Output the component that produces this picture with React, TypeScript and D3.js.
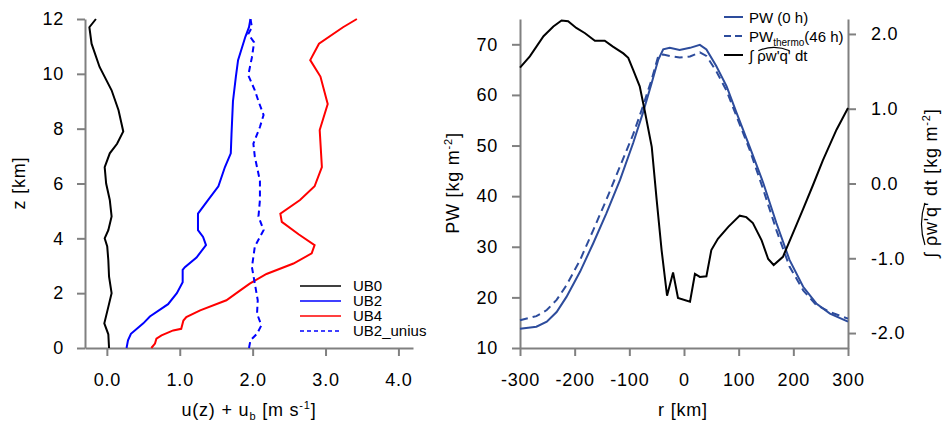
import React, { useRef, useEffect } from 'react';
import * as d3 from 'd3';

const W = 944;
const H = 421;

// left panel: wind profiles, [u (m/s), z (km)]
const ub0 = [
  [0.03, 0], [0.02, 0.5], [-0.035, 0.9], [0.02, 1.5], [0.065, 2.0], [0.03, 2.6], [0.02, 3.2],
  [0.005, 3.7], [-0.03, 4.0], [0.02, 4.3], [0.065, 4.8], [0.04, 5.4], [-0.01, 6.0], [-0.03, 6.6],
  [0.04, 7.1], [0.14, 7.45], [0.225, 7.9], [0.16, 8.67], [0.065, 9.4], [-0.1, 10.25],
  [-0.21, 11.1], [-0.24, 11.7], [-0.15, 12],
];
const ub2 = [
  [0.27, 0], [0.29, 0.28], [0.33, 0.52], [0.5, 0.9], [0.59, 1.15], [0.84, 1.6], [0.96, 2.0],
  [1.04, 2.4], [1.04, 2.85], [1.07, 2.95], [1.23, 3.3], [1.36, 3.75], [1.32, 4.05], [1.25, 4.3],
  [1.25, 4.9], [1.39, 5.4], [1.53, 5.9], [1.62, 6.6], [1.7, 7.1], [1.71, 7.8], [1.73, 9.0],
  [1.77, 9.9], [1.8, 10.5], [1.9, 11.35], [1.95, 11.7], [1.97, 12],
];
const ub4 = [
  [0.61, 0], [0.66, 0.16], [0.68, 0.34], [0.75, 0.46], [0.91, 0.64], [1.02, 0.7], [1.05, 1.0],
  [1.09, 1.13], [1.28, 1.37], [1.64, 1.74], [1.83, 2.1], [1.96, 2.35], [2.19, 2.7], [2.56, 3.08],
  [2.81, 3.45], [2.85, 3.75], [2.63, 4.15], [2.4, 4.6], [2.38, 4.9], [2.65, 5.4], [2.85, 5.9],
  [2.95, 6.6], [2.92, 7.95], [3.03, 8.9], [2.93, 9.9], [2.79, 10.5], [2.91, 11.1], [3.24, 11.7],
  [3.43, 12],
];
const ub2Unius = [
  [1.95, 0], [1.97, 0.28], [2.06, 0.52], [2.12, 0.83], [2.06, 1.25], [2.07, 1.74], [2.03, 2.35],
  [1.99, 2.95], [2.03, 3.7], [2.15, 4.3], [2.08, 4.8], [2.1, 5.4], [2.1, 6.1], [2.03, 6.97],
  [2.01, 7.45], [2.1, 8.06], [2.15, 8.5], [2.08, 9.0], [2.03, 9.4], [1.94, 9.95], [1.99, 10.6],
  [2.02, 11.15], [1.94, 11.45], [1.99, 11.7], [1.97, 12],
];

const uTicks = [0, 1, 2, 3, 4];
const zTicks = [0, 2, 4, 6, 8, 10, 12];

// right panel: precipitable water and integrated flux
const rGrid = [
  -300, -270, -251, -233, -215, -190, -166, -142, -117, -93, -75, -59, -47, -38, -26, -8,
  11, 29, 41, 59, 78, 96, 120, 145, 169, 193, 218, 242, 267, 300,
];
const pw0 = [
  13.8, 14.2, 15.2, 17.1, 20.1, 25.1, 30.7, 36.6, 43.2, 50.5, 56.5, 62.4, 67.0, 69.0, 69.3, 68.9,
  69.3, 69.9, 69.0, 65.7, 61.7, 56.5, 49.8, 42.6, 34.7, 27.4, 22.1, 18.8, 16.8, 15.2,
];
const pwThermo = [
  15.5, 16.3, 17.5, 19.5, 22.4, 27.4, 33.3, 39.3, 45.9, 52.2, 57.8, 63.1, 67.7, 68.0, 67.7, 67.4,
  67.6, 68.4, 67.7, 64.7, 60.8, 55.8, 49.2, 41.3, 33.3, 26.1, 21.4, 18.5, 17.1, 15.8,
];
const fluxR = [
  -300, -282, -257, -239, -224, -212, -197, -181, -163, -145, -130, -111, -102, -93, -81, -72,
  -59, -50, -41, -31, -20, -11, 11, 20, 29, 41, 50, 62, 81, 102, 114, 126, 142, 154, 164, 181,
  203, 218, 236, 254, 279, 300,
];
const flux = [
  1.55, 1.70, 1.97, 2.10, 2.18, 2.17, 2.08, 2.01, 1.91, 1.91, 1.83, 1.74, 1.68, 1.52, 1.30, 0.98,
  0.49, -0.22, -0.89, -1.50, -1.19, -1.53, -1.58, -1.21, -1.25, -1.24, -0.89, -0.74, -0.58, -0.43,
  -0.45, -0.53, -0.76, -1.01, -1.09, -0.98, -0.60, -0.34, -0.02, 0.31, 0.72, 1.01,
];

const rTicks = [-300, -200, -100, 0, 100, 200, 300];
const pwTicks = [10, 20, 30, 40, 50, 60, 70];
const fluxTicks = [-2, -1, 0, 1, 2];

const FONT = 'Liberation Sans, Arial, Helvetica, sans-serif';
const AXIS = '#808080';
const PWBLUE = '#2d4c9c';

const App = () => {
  const svgRef = useRef(null);

  useEffect(() => {
    const svg = d3.select(svgRef.current);
    svg.selectAll('*').remove();

    const styleAxis = (g) => {
      g.attr('font-size', 18).attr('font-family', FONT);
      g.select('.domain').attr('stroke', AXIS).attr('stroke-width', 2);
      g.selectAll('.tick line').attr('stroke', AXIS).attr('stroke-width', 2);
      g.selectAll('.tick text').attr('fill', '#000').style('letter-spacing', '0.8px');
    };

    const title = (x, y, transform) => svg.append('text')
      .attr('x', x).attr('y', y)
      .attr('transform', transform)
      .attr('text-anchor', 'middle')
      .style('font-family', FONT).style('font-size', '18px')
      .style('letter-spacing', '0.8px');

    // ---------- left panel ----------
    const xL = d3.scaleLinear().domain([-0.3, 4.2]).range([85, 413]);
    const yL = d3.scaleLinear().domain([0, 12]).range([348, 19]);

    svg.append('g')
      .attr('transform', 'translate(0,348)')
      .call(d3.axisBottom(xL).tickValues(uTicks).tickFormat(d => d.toFixed(1))
        .tickSize(8).tickSizeOuter(0).tickPadding(17))
      .call(styleAxis);

    svg.append('g')
      .attr('transform', 'translate(85,0)')
      .call(d3.axisLeft(yL).tickValues(zTicks).tickSize(8).tickSizeOuter(0).tickPadding(13))
      .call(styleAxis);

    const lineL = d3.line().x(d => xL(d[0])).y(d => yL(d[1]));
    const leftSeries = [
      { name: 'UB0', data: ub0, color: '#000000', dash: null },
      { name: 'UB2', data: ub2, color: '#0000ff', dash: null },
      { name: 'UB4', data: ub4, color: '#ff0000', dash: null },
      { name: 'UB2_unius', data: ub2Unius, color: '#0000ff', dash: '6,4' },
    ];
    leftSeries.forEach(s => {
      svg.append('path')
        .attr('d', lineL(s.data))
        .attr('fill', 'none')
        .attr('stroke', s.color)
        .attr('stroke-width', 2)
        .attr('stroke-dasharray', s.dash);
    });

    // left legend
    leftSeries.forEach((s, i) => {
      const y = 286 + i * 15;
      svg.append('line')
        .attr('x1', 300).attr('x2', 341).attr('y1', y).attr('y2', y)
        .attr('stroke', s.color).attr('stroke-width', 1.5)
        .attr('stroke-dasharray', s.dash ? '4,3' : null);
      svg.append('text')
        .attr('x', 353).attr('y', y).attr('dy', '0.36em')
        .style('font-family', FONT).style('font-size', '15px')
        .text(s.name);
    });

    // left axis titles
    const xt = title(249, 416, null);
    xt.append('tspan').text('u(z) + u');
    xt.append('tspan').attr('dy', 4).style('font-size', '11px').text('b');
    xt.append('tspan').attr('dy', -4).text(' [m s');
    xt.append('tspan').attr('dy', -7).style('font-size', '11px').text('-1');
    xt.append('tspan').attr('dy', 7).text(']');

    title(0, 0, 'translate(25,183) rotate(-90)').text('z [km]');

    // ---------- right panel ----------
    const xR = d3.scaleLinear().domain([-300, 300]).range([520, 848]);
    const yR = d3.scaleLinear().domain([10, 75]).range([348, 19]);
    const yF = d3.scaleLinear().domain([-2.2, 2.2]).range([348, 19]);

    svg.append('g')
      .attr('transform', 'translate(0,348)')
      .call(d3.axisBottom(xR).tickValues(rTicks).tickFormat(d => String(d))
        .tickSize(8).tickSizeOuter(0).tickPadding(17))
      .call(styleAxis);

    svg.append('g')
      .attr('transform', 'translate(520,0)')
      .call(d3.axisLeft(yR).tickValues(pwTicks).tickSize(8).tickSizeOuter(0).tickPadding(14))
      .call(styleAxis);

    svg.append('g')
      .attr('transform', 'translate(848,0)')
      .call(d3.axisRight(yF).tickValues(fluxTicks).tickFormat(d => d.toFixed(1))
        .tickSize(8).tickSizeOuter(0).tickPadding(15))
      .call(styleAxis);

    const linePW = d3.line().x((d, i) => xR(rGrid[i])).y(d => yR(d));
    svg.append('path')
      .attr('d', linePW(pwThermo))
      .attr('fill', 'none').attr('stroke', PWBLUE).attr('stroke-width', 2)
      .attr('stroke-dasharray', '8,5');
    svg.append('path')
      .attr('d', linePW(pw0))
      .attr('fill', 'none').attr('stroke', PWBLUE).attr('stroke-width', 2);

    const lineF = d3.line().x((d, i) => xR(fluxR[i])).y(d => yF(d));
    svg.append('path')
      .attr('d', lineF(flux))
      .attr('fill', 'none').attr('stroke', '#000').attr('stroke-width', 2);

    // arc over a substring of a text element (local coords of its parent)
    const arcOver = (parent, textSel, x0, y0, from, to, fs) => {
      const node = textSel.node();
      const a = node.getSubStringLength(0, from);
      const b = node.getSubStringLength(0, to);
      const x1 = x0 + a + 1;
      const x2 = x0 + b - 1;
      const yy = y0 - fs * 0.78;
      parent.append('path')
        .attr('d', `M${x1},${yy + 2}Q${(x1 + x2) / 2},${yy - 5} ${x2},${yy + 2}`)
        .attr('fill', 'none').attr('stroke', '#000').attr('stroke-width', 1.2);
    };

    // right legend
    const legItems = [
      { color: PWBLUE, dash: null },
      { color: PWBLUE, dash: '7,4' },
      { color: '#000', dash: null },
    ];
    legItems.forEach((s, i) => {
      const y = 17 + i * 19;
      svg.append('line')
        .attr('x1', 724).attr('x2', 743).attr('y1', y).attr('y2', y)
        .attr('stroke', s.color).attr('stroke-width', 2)
        .attr('stroke-dasharray', s.dash);
    });
    const legText = (i) => svg.append('text')
      .attr('x', 749).attr('y', 17 + i * 19 + 5.5)
      .style('font-family', FONT).style('font-size', '15px');
    legText(0).text('PW (0 h)');
    const l1 = legText(1);
    l1.append('tspan').text('PW');
    l1.append('tspan').attr('dy', 4).style('font-size', '10px').text('thermo');
    l1.append('tspan').attr('dy', -4).text('(46 h)');
    const l2 = legText(2).text("\u222B \u03C1w'q' dt");
    arcOver(svg, l2, 749, 17 + 2 * 19 + 5.5, 2, 7, 15);

    // right axis titles
    title(683, 416, null).text('r [km]');

    const pwt = title(0, 0, 'translate(459,183) rotate(-90)');
    pwt.append('tspan').text('PW [kg m');
    pwt.append('tspan').attr('dy', -7).style('font-size', '11px').text('-2');
    pwt.append('tspan').attr('dy', 7).text(']');

    const fg = svg.append('g').attr('transform', 'translate(937,183) rotate(-90)');
    const ft = fg.append('text')
      .attr('x', 0).attr('y', 0)
      .style('font-family', FONT).style('font-size', '18px')
      .style('letter-spacing', '0.8px');
    ft.append('tspan').text("\u222B \u03C1w'q' dt [kg m");
    ft.append('tspan').attr('dy', -7).style('font-size', '11px').text('-2');
    ft.append('tspan').attr('dy', 7).text(']');
    const total = ft.node().getComputedTextLength();
    ft.attr('x', -total / 2);
    arcOver(fg, ft, -total / 2, 0, 2, 7, 18);
  }, []);

  return (
    <svg
      ref={svgRef}
      width={W}
      height={H}
      style={{ position: 'absolute', left: 0, top: 0, background: '#fff' }}
    />
  );
};

export default App;
